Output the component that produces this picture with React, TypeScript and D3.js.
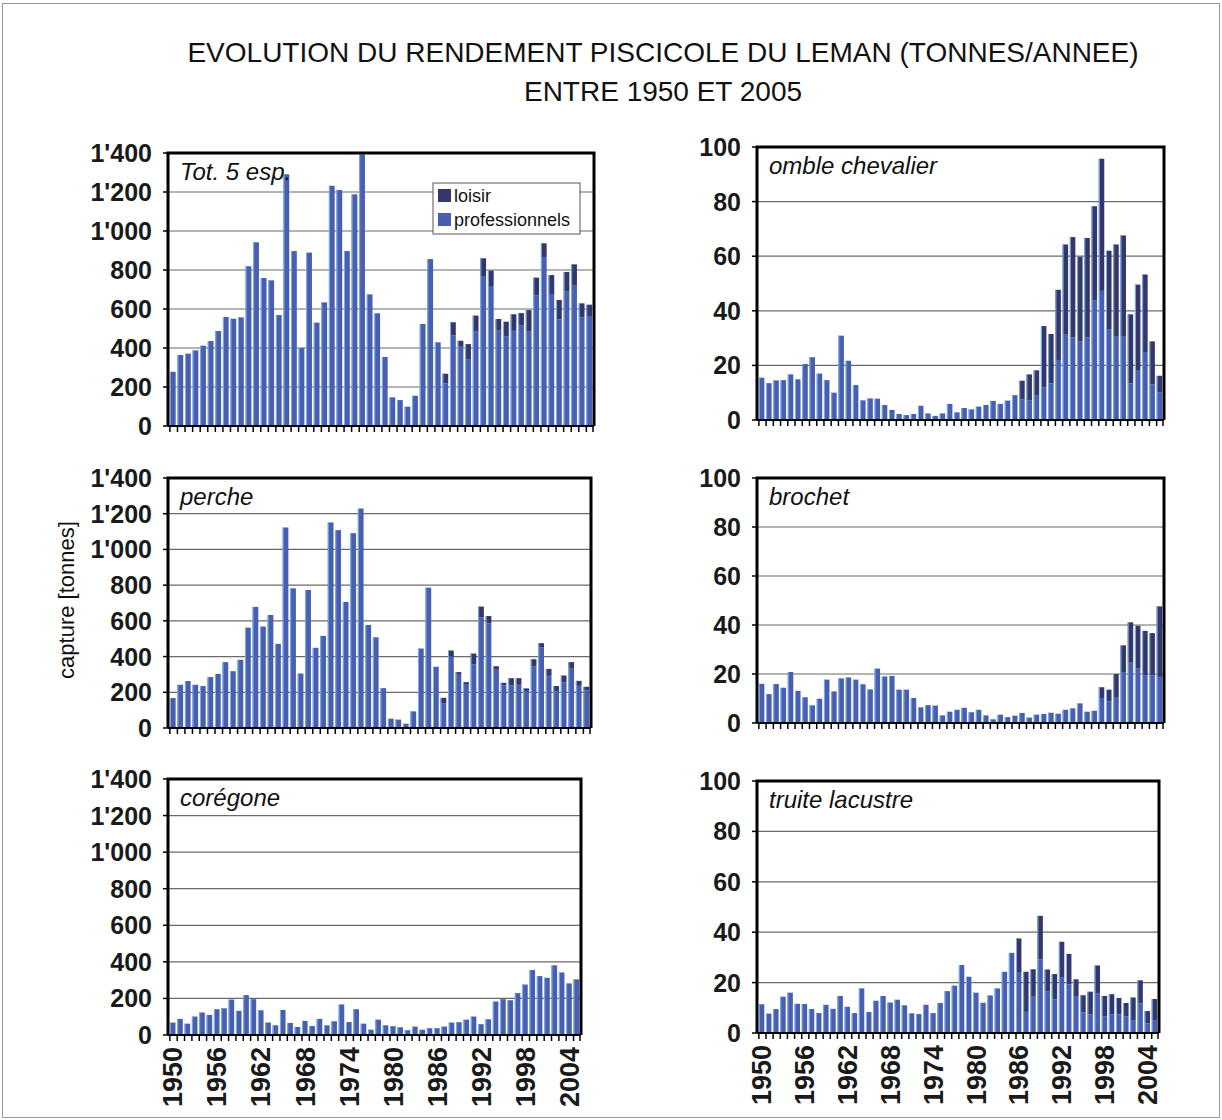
import React, { useEffect } from 'react';
import * as d3 from 'd3';

// categories
const years = [
  1950, 1951, 1952, 1953, 1954, 1955, 1956, 1957, 1958, 1959,
  1960, 1961, 1962, 1963, 1964, 1965, 1966, 1967, 1968, 1969,
  1970, 1971, 1972, 1973, 1974, 1975, 1976, 1977, 1978, 1979,
  1980, 1981, 1982, 1983, 1984, 1985, 1986, 1987, 1988, 1989,
  1990, 1991, 1992, 1993, 1994, 1995, 1996, 1997, 1998, 1999,
  2000, 2001, 2002, 2003, 2004, 2005,
];
const yearLabels = [1950, 1956, 1962, 1968, 1974, 1980, 1986, 1992, 1998, 2004];

// Tot. 5 esp. (tonnes)
const totPro = [
  278, 364, 371, 388, 412, 436, 487, 559, 550, 557,
  819, 942, 759, 747, 569, 1291, 897, 400, 889, 530,
  634, 1232, 1210, 897, 1188, 1393, 675, 578, 354, 147,
  133, 99, 155, 523, 856, 429, 218, 464, 406, 343,
  484, 769, 718, 489, 458, 488, 517, 484, 669, 863,
  677, 547, 689, 723, 557, 560,
];
const totLoisir = [
  0, 0, 0, 0, 0, 0, 0, 0, 0, 0,
  0, 0, 0, 0, 0, 0, 0, 0, 0, 0,
  0, 0, 0, 0, 0, 0, 0, 0, 0, 0,
  0, 0, 0, 0, 0, 0, 50, 68, 31, 77,
  82, 91, 79, 60, 77, 85, 62, 111, 92, 74,
  97, 99, 101, 106, 72, 62,
];

// perche
const perchePro = [
  168, 242, 263, 242, 235, 285, 303, 369, 318, 382,
  562, 678, 568, 633, 471, 1123, 782, 305, 773, 449,
  516, 1151, 1108, 706, 1091, 1229, 577, 508, 223, 52,
  47, 24, 93, 445, 786, 343, 139, 401, 298, 242,
  357, 619, 586, 326, 238, 238, 242, 207, 344, 450,
  292, 205, 255, 332, 236, 211,
];
const percheLoisir = [
  0, 0, 0, 0, 0, 0, 0, 0, 0, 0,
  0, 0, 0, 0, 0, 0, 0, 0, 0, 0,
  0, 0, 0, 0, 0, 0, 0, 0, 0, 0,
  0, 0, 0, 0, 0, 0, 30, 33, 15, 15,
  60, 61, 41, 20, 15, 41, 37, 15, 41, 25,
  39, 30, 39, 37, 28, 20,
];

// corégone
const coregonePro = [
  68, 88, 62, 101, 123, 110, 141, 146, 194, 132,
  218, 196, 135, 68, 53, 137, 66, 44, 77, 49,
  88, 53, 75, 167, 71, 141, 62, 29, 84, 53,
  48, 42, 26, 46, 29, 37, 37, 46, 68, 70,
  84, 101, 59, 86, 183, 196, 190, 229, 276, 355,
  322, 313, 381, 342, 282, 304,
];
const coregoneLoisir = [
  0, 0, 0, 0, 0, 0, 0, 0, 0, 0,
  0, 0, 0, 0, 0, 0, 0, 0, 0, 0,
  0, 0, 0, 0, 0, 0, 0, 0, 0, 0,
  0, 0, 0, 0, 0, 0, 0, 0, 0, 0,
  0, 0, 0, 0, 0, 0, 0, 0, 0, 0,
  0, 0, 0, 0, 0, 0,
];

// omble chevalier
const omblePro = [
  15.5, 13.5, 14.5, 14.6, 16.7, 14.9, 20.5, 23, 17, 14.6,
  10, 30.9, 21.7, 12.8, 7.2, 7.9, 7.8, 5.5, 3.7, 2.2,
  1.8, 2.2, 5.2, 2.4, 1.5, 2.4, 5.9, 2.8, 4.4, 3.9,
  4.9, 5.5, 7.0, 5.9, 7.1, 9.1, 7.6, 7.1, 9.1, 12,
  13.4, 22, 31.5, 30.2, 28.7, 30.2, 43.9, 47.3, 33.3, 30.5,
  30.5, 13.4, 18.3, 24.9, 13, 10.2,
];
const ombleLoisir = [
  0, 0, 0, 0, 0, 0, 0, 0, 0, 0,
  0, 0, 0, 0, 0, 0, 0, 0, 0, 0,
  0, 0, 0, 0, 0, 0, 0, 0, 0, 0,
  0, 0, 0, 0, 0, 0, 6.8, 9.6, 9.1, 22.4,
  18.1, 25.7, 32.8, 36.8, 31.1, 36.5, 34.4, 48.4, 28.7, 33.8,
  37.1, 25.3, 31.3, 28.4, 15.8, 6,
];

// brochet
const brochetPro = [
  16, 11.8, 15.9, 14.4, 20.8, 13.1, 10.5, 7.2, 9.9, 17.7,
  12.9, 18.2, 18.6, 17.7, 15.8, 13.7, 22.2, 19, 19.2, 13.6,
  13.6, 10.2, 6.4, 7.3, 7.1, 3.1, 4.6, 5.4, 6.2, 4.4,
  5.4, 3.1, 1.5, 3.4, 2.4, 3.0, 4.1, 2.2, 3.4, 3.7,
  4.2, 3.8, 5.4, 6.0, 8.0, 4.6, 5.0, 10.2, 8.8, 10.6,
  20.8, 24.6, 22.2, 19.5, 19.5, 18.8,
];
const brochetLoisir = [
  0, 0, 0, 0, 0, 0, 0, 0, 0, 0,
  0, 0, 0, 0, 0, 0, 0, 0, 0, 0,
  0, 0, 0, 0, 0, 0, 0, 0, 0, 0,
  0, 0, 0, 0, 0, 0, 0, 0, 0, 0,
  0, 0, 0, 0, 0, 0, 0, 4.4, 4.8, 9.4,
  10.9, 16.5, 17.5, 18.1, 17.2, 28.8,
];

// truite lacustre
const truitePro = [
  11.4, 7.7, 9.5, 14.4, 16, 11.6, 11.5, 9.5, 7.9, 11.2,
  9.6, 14.7, 10.4, 7.9, 17.7, 8.3, 12.8, 14.7, 12.1, 13.2,
  11, 7.8, 7.5, 11.2, 7.9, 11.9, 16.6, 18.8, 27, 22.3,
  16, 12, 14.9, 17.7, 24.3, 31.8, 23.9, 8.4, 14.4, 29.2,
  16.6, 13.3, 22, 19.3, 14.4, 8.2, 7.4, 15.7, 6.5, 7.4,
  7.4, 6.5, 5.1, 11.7, 3.8, 5.1,
];
const truiteLoisir = [
  0, 0, 0, 0, 0, 0, 0, 0, 0, 0,
  0, 0, 0, 0, 0, 0, 0, 0, 0, 0,
  0, 0, 0, 0, 0, 0, 0, 0, 0, 0,
  0, 0, 0, 0, 0, 0, 13.6, 15.9, 10.9, 17.3,
  8.6, 10.1, 14.2, 12.1, 6.9, 6.8, 9, 11.1, 8.2, 8,
  6.5, 5.4, 9, 9.2, 4.9, 8.4,
];

const tonnesTicks = [0, 200, 400, 600, 800, 1000, 1200, 1400];
const smallTicks = [0, 20, 40, 60, 80, 100];

const PRO = '#4a5db0';
const LOISIR = '#37366c';
const EDGE = '#6fb4e6';
const FONT = 'Liberation Sans, Arial, sans-serif';

const fmtTonnes = d3.formatLocale({ decimal: '.', thousands: "'", grouping: [3], currency: ['', ''] }).format(',');

interface PanelProps {
  label: string;
  pro: number[];
  loisir: number[];
  ticks: number[];
  x0: number; x1: number; yTop: number; yBot: number;
  showYears?: boolean;
  legend?: boolean;
}

const Panel: React.FC<PanelProps> = ({ label, pro, loisir, ticks, x0, x1, yTop, yBot, showYears, legend }) => {
  const x = d3.scaleBand<number>().domain(years).range([x0 + 1, x1 - 1]).paddingInner(0.24).paddingOuter(0.12);
  const y = d3.scaleLinear().domain([0, d3.max(ticks)!]).range([yBot, yTop]);
  const step = x.step();
  const bw = x.bandwidth();

  return (
    <g>
      {/* grid */}
      {ticks.slice(1, -1).map(t => (
        <line key={t} x1={x0} x2={x1} y1={y(t)} y2={y(t)} stroke="#6a6a6a" strokeWidth={1.2} />
      ))}
      {/* bars */}
      {years.map((yr, i) => {
        const bx = x(yr)!;
        const p = pro[i];
        const l = loisir[i];
        return (
          <g key={yr}>
            <rect x={bx} y={y(p)} width={bw} height={yBot - y(p)} fill={PRO} />
            {l > 0 && <rect x={bx} y={y(p + l)} width={bw} height={y(p) - y(p + l)} fill={LOISIR} />}
            <rect x={bx} y={y(p + l)} width={1} height={yBot - y(p + l)} fill={EDGE} />
          </g>
        );
      })}
      {/* frame */}
      <path d={`M${x0},${yBot} V${yTop} H${x1} V${yBot}`} fill="none" stroke="#000" strokeWidth={3} />
      <line x1={x0} x2={x1} y1={yBot} y2={yBot} stroke="#000" strokeWidth={2} />
      {/* x ticks */}
      {years.map((yr, i) => (
        <line key={yr} x1={x0 + 1 + step * 0.12 + i * step} x2={x0 + 1 + step * 0.12 + i * step}
          y1={yBot} y2={yBot + 6} stroke="#000" strokeWidth={1.5} />
      ))}
      <line x1={x1 - 1} x2={x1 - 1} y1={yBot} y2={yBot + 6} stroke="#000" strokeWidth={1.5} />
      {/* y ticks + labels */}
      {ticks.map(t => (
        <g key={t}>
          <line x1={x0 - 5} x2={x0} y1={y(t)} y2={y(t)} stroke="#000" strokeWidth={1.5} />
          <text x={x0 - 16} y={y(t)} dy="0.36em" textAnchor="end" fontSize={25} fontWeight="bold"
            fontFamily={FONT} fill="#1a1a1a">
            {ticks.length > 6 ? fmtTonnes(t) : t}
          </text>
        </g>
      ))}
      <text x={x0 + 12} y={yTop + 27} fontSize={24} fontStyle="italic" fontFamily={FONT} fill="#111">{label}</text>
      {showYears && yearLabels.map(yr => (
        <text key={yr} transform={`translate(${x(yr)! + bw / 2},${yBot + 12}) rotate(-90)`}
          dy="0.36em" textAnchor="end" fontSize={27} fontWeight="bold" fontFamily={FONT} fill="#1a1a1a">{yr}</text>
      ))}
      {legend && (
        <g>
          <rect x={433} y={183} width={147} height={51} fill="#fff" stroke="#555" strokeWidth={1} />
          <rect x={438} y={189} width={13} height={13} fill={LOISIR} />
          <text x={454} y={202} fontSize={18} fontFamily={FONT} fill="#111">loisir</text>
          <rect x={438} y={213} width={13} height={13} fill={PRO} />
          <text x={454} y={226} fontSize={18} fontFamily={FONT} fill="#111">professionnels</text>
        </g>
      )}
    </g>
  );
};

export default function App() {
  useEffect(() => {
    document.body.style.margin = '0';
  }, []);

  return (
    <svg width={1222} height={1120} style={{ display: 'block', background: '#fff' }}>
      <rect x={2.5} y={3.5} width={1217} height={1114} fill="none" stroke="#9a9a9a" strokeWidth={1} />
      <text x={663} y={62} textAnchor="middle" fontSize={28} fontFamily={FONT} fill="#111">
        EVOLUTION DU RENDEMENT PISCICOLE DU LEMAN (TONNES/ANNEE)
      </text>
      <text x={663} y={101} textAnchor="middle" fontSize={28} fontFamily={FONT} fill="#111">
        ENTRE 1950 ET 2005
      </text>
      <text transform="translate(74,600) rotate(-90)" textAnchor="middle" fontSize={22} fontFamily={FONT} fill="#111">
        capture [tonnes]
      </text>

      <Panel label="Tot. 5 esp." pro={totPro} loisir={totLoisir} ticks={tonnesTicks}
        x0={168} x1={594} yTop={153} yBot={426} legend />
      <Panel label="omble chevalier" pro={omblePro} loisir={ombleLoisir} ticks={smallTicks}
        x0={757} x1={1164} yTop={147} yBot={420} />
      <Panel label="perche" pro={perchePro} loisir={percheLoisir} ticks={tonnesTicks}
        x0={168} x1={591} yTop={478} yBot={728} />
      <Panel label="brochet" pro={brochetPro} loisir={brochetLoisir} ticks={smallTicks}
        x0={757} x1={1164} yTop={478} yBot={723} />
      <Panel label="corégone" pro={coregonePro} loisir={coregoneLoisir} ticks={tonnesTicks}
        x0={168} x1={581} yTop={779} yBot={1035} showYears />
      <Panel label="truite lacustre" pro={truitePro} loisir={truiteLoisir} ticks={smallTicks}
        x0={757} x1={1159} yTop={781} yBot={1033} showYears />
    </svg>
  );
}
